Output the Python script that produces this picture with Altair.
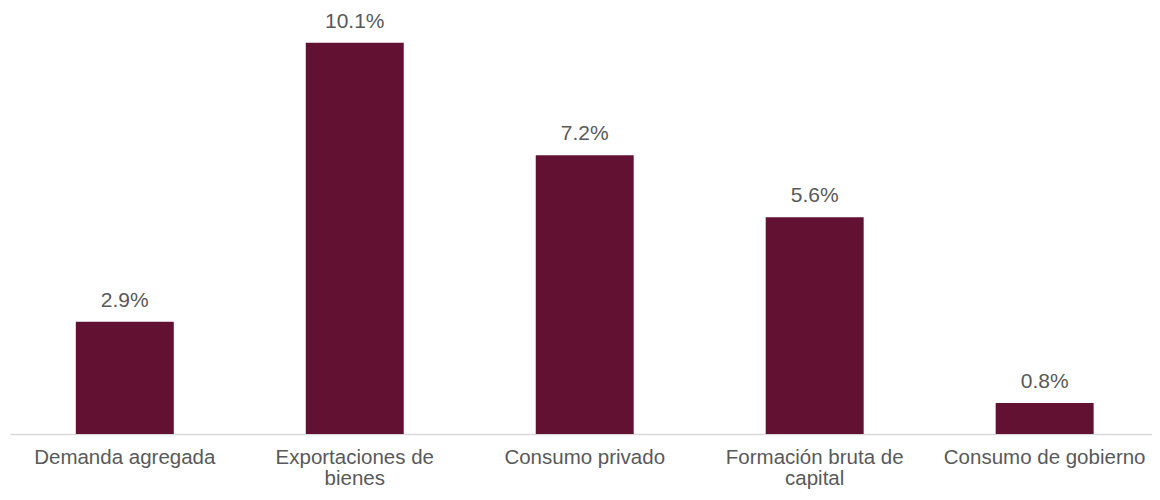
import altair as alt
import pandas as pd

categories = ["Demanda agregada", "Exportaciones de bienes", "Consumo privado",
              "Formación bruta de capital", "Consumo de gobierno"]
values = [2.9, 10.1, 7.2, 5.6, 0.8]
value_labels = ["2.9%", "10.1%", "7.2%", "5.6%", "0.8%"]

df = pd.DataFrame({"cat": categories, "val": values, "lab": value_labels})

label_expr = ("datum.value == 'Exportaciones de bienes' ? ['Exportaciones de', 'bienes'] : "
              "datum.value == 'Formación bruta de capital' ? ['Formación bruta de', 'capital'] : datum.value")

xscale = alt.Scale(paddingInner=0.574, paddingOuter=0.27, align=0.53)
x = alt.X("cat:N", sort=categories, title=None, scale=xscale,
          axis=alt.Axis(labelAngle=0, labelFont="Liberation Sans", labelFontSize=20.5,
                        labelColor="#595959", labelPadding=13, labelLineHeight=21,
                        ticks=False, domainColor="#d9d9d9", domainWidth=1.5,
                        labelExpr=label_expr, labelBaseline="top", labelLimit=300))
y = alt.Y("val:Q", title=None, scale=alt.Scale(domain=[0, 11], nice=False),
          axis=None)

bars = alt.Chart(df).mark_bar(color="#621132").encode(x=x, y=y)
text = alt.Chart(df).mark_text(baseline="alphabetic", dy=-15, font="Liberation Sans",
                               fontSize=21, color="#595959").encode(
    x=alt.X("cat:N", sort=categories, scale=xscale), y="val:Q", text="lab:N")

chart = alt.layer(bars, text).properties(
    width=1142, height=426,
    autosize=alt.AutoSizeParams(type="none"),
    padding={"left": 2, "top": 0, "right": 0, "bottom": 58}
).configure_view(stroke=None).configure_axis(grid=False)

chart.save("out.html", embed_options={"renderer": "svg", "actions": False})
